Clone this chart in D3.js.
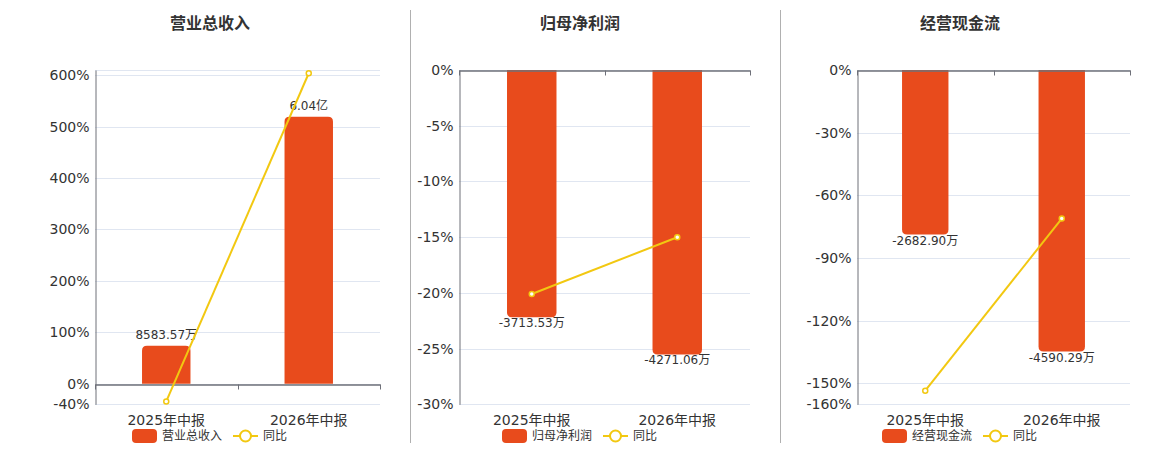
<!DOCTYPE html>
<html>
<head>
<meta charset="utf-8">
<script src="https://cdn.jsdelivr.net/npm/d3@7"></script>
<style>
  body { margin: 0; background: #fff; }
  svg { display: block; font-family: "DejaVu Sans", "Noto Sans CJK SC", sans-serif; }
</style>
</head>
<body>
<svg id="chart" width="1160" height="450"></svg>
<script>
// categories shared by all three panels
const categories = ["2025年中报", "2026年中报"];

// panel titles / legend names
const titles = ["营业总收入", "归母净利润", "经营现金流"];

// bar values, in 万元
const revenue = [8583.57, 60400];
const netProfit = [-3713.53, -4271.06];
const cashFlow = [-2682.90, -4590.29];

// 同比 (%)
const revenueYoy = [-34.4, 603.7];
const netProfitYoy = [-20.1, -15.01];
const cashFlowYoy = [-153.5, -71.09];

// y tick labels (%)
const revenueTicks = [-40, 0, 100, 200, 300, 400, 500, 600];
const netProfitTicks = [-30, -25, -20, -15, -10, -5, 0];
const cashFlowTicks = [-160, -150, -120, -90, -60, -30, 0];

const BAR_COLOR = "#E84B1C";
const LINE_COLOR = "#F2C811";
const GRID_COLOR = "#E0E6F1";
const AXIS_COLOR = "#6E7079";
const TEXT_COLOR = "#333";

const svg = d3.select("#chart");

/*****************
***** PANELS *****
*****************/
const panels = [
    {title: titles[0], bars: revenue, yoy: revenueYoy, ticks: revenueTicks,
     left: 95, right: 380, center: 210, pctDomain: [-40, 610], barDomain: [0, 71000], labelAbove: true},
    {title: titles[1], bars: netProfit, yoy: netProfitYoy, ticks: netProfitTicks,
     left: 459, right: 750, center: 580, pctDomain: [-30, 0], barDomain: [-5020, 0], labelAbove: false},
    {title: titles[2], bars: cashFlow, yoy: cashFlowYoy, ticks: cashFlowTicks,
     left: 857, right: 1130, center: 960, pctDomain: [-160, 0], barDomain: [-5450, 0], labelAbove: false}
];

const plotTop = 70, plotBottom = 404.3;

// plain hyphen minus, like the source chart
function fmtValue(v) {
    if (Math.abs(v) >= 10000) return (v / 10000).toFixed(2) + "亿";
    return v.toFixed(2) + "万";
}

// dividers between panels
svg.selectAll(".divider")
    .data([410.5, 780.5])
    .enter()
    .append("line")
    .attr("class", "divider")
    .attr("x1", d => d).attr("x2", d => d)
    .attr("y1", 10).attr("y2", 443)
    .attr("stroke", "#B0B0B0")
    .attr("stroke-width", 1);

panels.forEach(p => {
    const g = svg.append("g");

    let xScale = d3.scaleBand()
        .domain(categories)
        .range([p.left, p.right]);

    let yScale = d3.scaleLinear()
        .domain(p.pctDomain)
        .range([plotBottom, plotTop]);

    const zeroY = yScale(0);

    // bars share the zero line with the % axis
    let barScale = d3.scaleLinear()
        .domain(p.barDomain)
        .range(p.barDomain[0] === 0 ? [zeroY, plotTop] : [plotBottom, zeroY]);

    // title
    g.append("text")
        .attr("x", p.center)
        .attr("y", 23)
        .attr("text-anchor", "middle")
        .attr("dominant-baseline", "central")
        .style("font-size", "16px")
        .style("font-weight", "bold")
        .style("fill", TEXT_COLOR)
        .text(p.title);

    // gridlines (include top edge)
    const gridVals = p.ticks.concat([p.pctDomain[1]]);
    g.append("g")
        .selectAll("line")
        .data(gridVals)
        .enter()
        .append("line")
        .attr("x1", p.left).attr("x2", p.right)
        .attr("y1", d => Math.round(yScale(d)) + 0.5)
        .attr("y2", d => Math.round(yScale(d)) + 0.5)
        .attr("stroke", GRID_COLOR)
        .attr("stroke-width", 1);

    // y axis
    const yAxis = g.append("g")
        .attr("transform", `translate(${Math.round(p.left) + 0.5}, 0)`)
        .call(d3.axisLeft(yScale)
            .tickValues(p.ticks)
            .tickSize(0)
            .tickPadding(6)
            .tickFormat(d => d + "%"));
    yAxis.select(".domain")
        .attr("stroke", AXIS_COLOR);
    yAxis.selectAll("text")
        .style("font-size", "14px")
        .style("font-family", "\"DejaVu Sans\", sans-serif")
        .style("fill", TEXT_COLOR);

    // bars
    g.append("g")
        .selectAll("path")
        .data(p.bars)
        .enter()
        .append("path")
        .attr("fill", BAR_COLOR)
        .attr("d", (d, i) => {
            const bw = xScale.bandwidth() * 0.34;
            const x0 = xScale(categories[i]) + (xScale.bandwidth() - bw) / 2;
            const y0 = barScale(0), y1 = barScale(d);
            const r = 5;
            if (d >= 0) {
                return `M${x0},${y0} V${y1 + r} Q${x0},${y1} ${x0 + r},${y1} H${x0 + bw - r} Q${x0 + bw},${y1} ${x0 + bw},${y1 + r} V${y0} Z`;
            }
            return `M${x0},${y0} V${y1 - r} Q${x0},${y1} ${x0 + r},${y1} H${x0 + bw - r} Q${x0 + bw},${y1} ${x0 + bw},${y1 - r} V${y0} Z`;
        });

    // x axis at zero line
    const xAxis = g.append("g")
        .attr("transform", `translate(0, ${Math.round(zeroY) + 0.5})`)
        .call(d3.axisBottom(xScale).tickSize(0).tickFormat(""));
    xAxis.select(".domain").attr("stroke", AXIS_COLOR).attr("stroke-width", 1.5);
    xAxis.selectAll(".bdry")
        .data([p.left, (p.left + p.right) / 2, p.right])
        .enter()
        .append("line")
        .attr("x1", d => Math.round(d) + 0.5).attr("x2", d => Math.round(d) + 0.5)
        .attr("y1", 0).attr("y2", 5)
        .attr("stroke", AXIS_COLOR);

    // category labels
    g.append("g")
        .selectAll("text")
        .data(categories)
        .enter()
        .append("text")
        .attr("x", d => xScale(d) + xScale.bandwidth() / 2)
        .attr("y", 420)
        .attr("text-anchor", "middle")
        .attr("dominant-baseline", "central")
        .style("font-size", "14px")
        .style("fill", TEXT_COLOR)
        .text(d => d);

    // value labels
    g.append("g")
        .selectAll("text")
        .data(p.bars)
        .enter()
        .append("text")
        .attr("x", (d, i) => xScale(categories[i]) + xScale.bandwidth() / 2)
        .attr("y", d => p.labelAbove ? barScale(d) - 11 : barScale(d) + 6)
        .attr("text-anchor", "middle")
        .attr("dominant-baseline", "central")
        .style("font-size", "12px")
        .style("fill", TEXT_COLOR)
        .text(d => fmtValue(d));

    // yoy line
    const line = d3.line()
        .x((d, i) => xScale(categories[i]) + xScale.bandwidth() / 2)
        .y(d => yScale(d));

    g.append("path")
        .datum(p.yoy)
        .attr("d", line)
        .attr("fill", "none")
        .attr("stroke", LINE_COLOR)
        .attr("stroke-width", 2);

    g.append("g")
        .selectAll("circle")
        .data(p.yoy)
        .enter()
        .append("circle")
        .attr("cx", (d, i) => xScale(categories[i]) + xScale.bandwidth() / 2)
        .attr("cy", d => yScale(d))
        .attr("r", 2.5)
        .attr("fill", "#fff")
        .attr("stroke", LINE_COLOR)
        .attr("stroke-width", 1.5);

    /*****************
    ***** LEGEND *****
    *****************/
    const lg = g.append("g")
        .attr("transform", `translate(${p.center - 78}, 436)`);

    lg.append("rect")
        .attr("x", 0).attr("y", -7)
        .attr("width", 25).attr("height", 14)
        .attr("rx", 4)
        .attr("fill", BAR_COLOR);

    lg.append("text")
        .attr("x", 30).attr("y", 0)
        .attr("dominant-baseline", "central")
        .style("font-size", "12px")
        .style("fill", TEXT_COLOR)
        .text(p.title);

    lg.append("line")
        .attr("x1", 101).attr("x2", 126)
        .attr("y1", 0).attr("y2", 0)
        .attr("stroke", LINE_COLOR)
        .attr("stroke-width", 2);

    lg.append("circle")
        .attr("cx", 113.5).attr("cy", 0)
        .attr("r", 5.5)
        .attr("fill", "#fff")
        .attr("stroke", LINE_COLOR)
        .attr("stroke-width", 2);

    lg.append("text")
        .attr("x", 131).attr("y", 0)
        .attr("dominant-baseline", "central")
        .style("font-size", "12px")
        .style("fill", TEXT_COLOR)
        .text("同比");
});
</script>
</body>
</html>
